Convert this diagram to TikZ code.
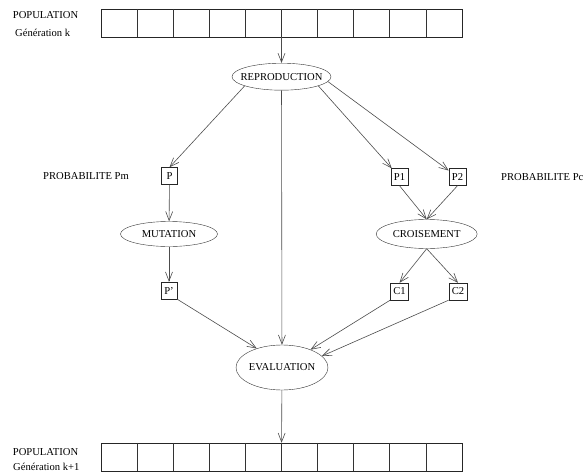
\documentclass[tikz,border=0pt]{standalone}
\usepackage{fontspec}
\setmainfont{Liberation Serif}
\usetikzlibrary{arrows.meta}
\usetikzlibrary{shapes.geometric}
\newcommand{\ovaltxt}[1]{\makebox[0pt]{#1}}

\begin{document}
\begin{tikzpicture}[x=1pt, y=-1pt, font=\fontsize{10.6}{12}\selectfont,
 oval/.style={draw=black!80, ellipse, inner sep=0},
 case/.style={draw=black!85, inner sep=3pt, minimum width=16, minimum height=17},
 tableau/.style={draw=black!85, inner sep=0, minimum width=361, minimum height=28},
 etiq/.style={anchor=west, inner sep=0},
 fleche/.style={draw=black!70, line width=.6pt, -{Straight Barb[length=9pt,width=7pt]}}]
\useasboundingbox (0,0) rectangle (587,474);
\node[tableau] (popk) at (281.5,23) {};
\node[tableau] (popk1) at (281.5,457) {};
\foreach \t in {popk,popk1} {
 \foreach \i in {1,...,9}
  \draw[black!80] ([xshift=\i*36.1]\t.north west) -- ([xshift=\i*36.1]\t.south west);
}
\node[etiq] (popk-a) at (12.7,15) {POPULATION};
\node[etiq] (popk-b) at (15,33) {Génération k};
\node[etiq] (popk1-a) at (12.7,452) {POPULATION};
\node[etiq] (popk1-b) at (13,467) {Génération k+1};
\node[etiq] (probm) at (43,176.5) {PROBABILITE Pm};
\node[etiq] (probc) at (501,177) {PROBABILITE Pc};

\node[oval, minimum width=99, minimum height=27] (repro) at (281.5,76.7) {\ovaltxt{REPRODUCTION}};
\node[case] (p) at (169.5,176) {P};
\node[case] (p1) at (399.5,177) {P1};
\node[case] (p2) at (457.5,177) {P2};
\node[oval, minimum width=97, minimum height=25] (mut) at (169,234) {\ovaltxt{MUTATION}};
\node[oval, minimum width=101, minimum height=29] (crois) at (426.7,234) {\ovaltxt{CROISEMENT}};
\node[case] (pp) at (169,290.5) {P'};
\node[case] (c1) at (399.5,291.5) {C1};
\node[case] (c2) at (458,291.5) {C2};
\node[oval, minimum width=92, minimum height=45] (eval) at (282,367.5) {\ovaltxt{EVALUATION}};

\draw[fleche] (popk) -- (repro);
\draw[fleche] (repro.-166) -- (p.north);
\draw[fleche] (repro.-14) -- (p1);
\draw[fleche] (repro.-6) -- (p2);
\draw[fleche] (repro) -- (eval);
\draw[fleche] (p) -- (mut);
\draw[fleche] (mut) -- (pp);
\draw[fleche] (p1.south) -- (crois.north);
\draw[fleche] (p2.south) -- (crois.north);
\draw[fleche] (crois.south) -- (c1.north);
\draw[fleche] (crois.south) -- (c2.north);
\draw[fleche] (pp.south east) -- (eval.143);
\draw[fleche] (c1.south west) -- (eval.32);
\draw[fleche] (c2.south west) -- (eval.16);
\draw[fleche] (eval) -- (popk1);
\end{tikzpicture}
\end{document}
